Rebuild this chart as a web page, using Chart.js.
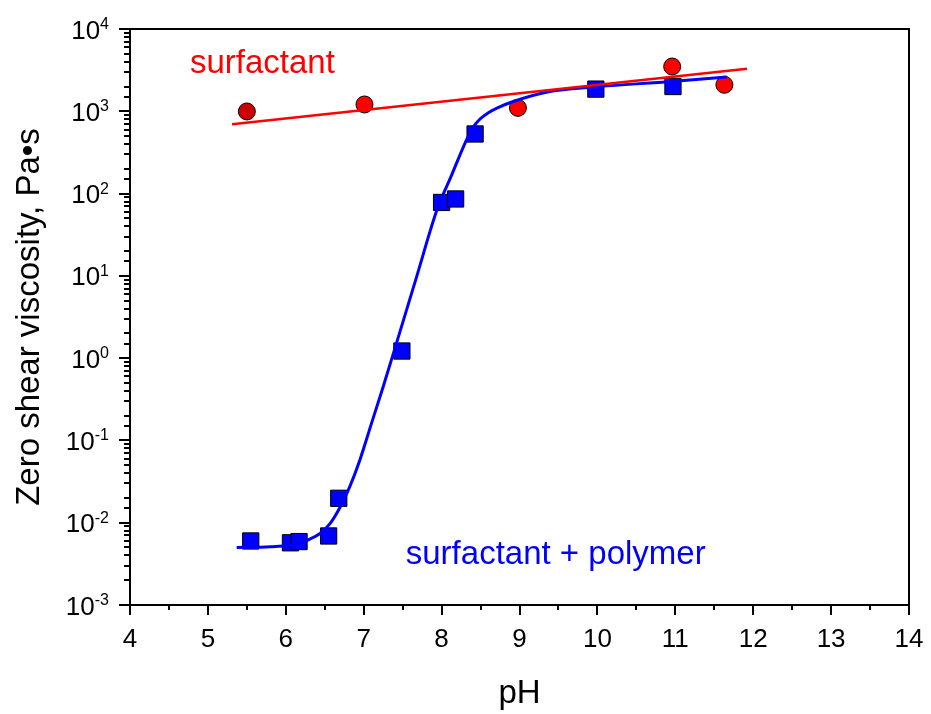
<!DOCTYPE html>
<html>
<head>
<meta charset="utf-8">
<script src="https://cdn.jsdelivr.net/npm/chart.js@4.4.1/dist/chart.umd.min.js"></script>
<style>
    body { margin: 0; background: #fff; }
    canvas { display: block; }
</style>
</head>
<body>
<canvas id="chartPH" width="931" height="714"></canvas>
<script>
// surfactant + polymer (squares)
var polyPH = [5.55, 6.06, 6.17, 6.55, 6.68, 7.49, 8.0, 8.18, 8.43, 9.98, 10.97];
var polyVisc = [0.0060, 0.0057, 0.0059, 0.0069, 0.0198, 1.22, 78, 86, 530, 1860, 2000];

// surfactant only (circles)
var surfPH = [5.50, 7.01, 8.98, 10.96, 11.63];
var surfVisc = [995, 1210, 1100, 3500, 2100];
var surfColors = ['#cc0000', '#ff0000', '#ff0000', '#ff0000', '#ff0000'];

// fitted curves
var fitPolyPH = [5.37, 5.8, 6.18, 6.27, 6.44, 6.57, 6.70, 6.82, 6.95, 7.10, 7.25, 7.42, 7.68, 7.94, 8.13, 8.32, 8.40, 8.49, 8.60, 8.71, 8.92, 9.39, 9.94, 10.95, 11.66];
var fitPolyVisc = [0.0050, 0.0051, 0.0056, 0.0061, 0.0074, 0.0098, 0.0156, 0.0273, 0.0576, 0.161, 0.449, 1.51, 9.8, 63, 169, 450, 630, 800, 960, 1094, 1316, 1741, 1968, 2305, 2606];
var fitSurfPH = [5.31, 11.92];
var fitSurfVisc = [698, 3289];

var yExponents = [-3, -2, -1, 0, 1, 2, 3, 4];

var labelTexts = ['surfactant', 'surfactant + polymer'];
var labelPH = [4.77, 7.54];
var labelVisc = [2940, 0.00319];
var labelColors = ['#ff0000', '#0000ff'];

var fonte = 'Arial, "Liberation Sans", sans-serif';

function pares(xs, ys) {
    var out = [];
    for (let i = 0; i < xs.length; i++) {
        out.push({ x: xs[i], y: ys[i] });
    }
    return out;
}

var eixosPlugin = {
    id: 'eixos',
    afterDraw: function (chart) {
        var ctx = chart.ctx;
        var area = chart.chartArea;
        var xs = chart.scales.x;
        var ys = chart.scales.y;

        ctx.save();
        ctx.strokeStyle = '#000';
        ctx.lineWidth = 2;
        ctx.strokeRect(area.left, area.top, area.right - area.left, area.bottom - area.top);

        // x ticks: integers long, halves short
        ctx.beginPath();
        xs.ticks.forEach(function (t) {
            var px = Math.round(xs.getPixelForValue(t.value));
            var len = Number.isInteger(t.value) ? 10 : 5;
            ctx.moveTo(px, area.bottom);
            ctx.lineTo(px, area.bottom + len);
        });
        // y ticks: decades long, the rest short
        ys.ticks.forEach(function (t) {
            var lg = Math.log10(t.value);
            var major = Math.abs(lg - Math.round(lg)) < 1e-6;
            var py = Math.round(ys.getPixelForValue(t.value));
            ctx.moveTo(area.left, py);
            ctx.lineTo(area.left - (major ? 11 : 6), py);
        });
        ctx.stroke();

        // y labels as 10 with raised exponent
        ctx.fillStyle = '#000';
        ctx.textBaseline = 'alphabetic';
        ctx.textAlign = 'left';
        yExponents.forEach(function (e) {
            var py = ys.getPixelForValue(Math.pow(10, e));
            var expo = String(e);
            ctx.font = '16px ' + fonte;
            var wExp = ctx.measureText(expo).width;
            ctx.font = '26px ' + fonte;
            var wBase = ctx.measureText('10').width;
            var right = 109;
            ctx.fillText('10', right - wExp - wBase, py + 9.5);
            ctx.font = '16px ' + fonte;
            ctx.fillText(expo, right - wExp, py);
        });

        // text labels inside the plot
        ctx.font = '33px ' + fonte;
        for (let i = 0; i < labelTexts.length; i++) {
            ctx.fillStyle = labelColors[i];
            ctx.fillText(labelTexts[i], xs.getPixelForValue(labelPH[i]), ys.getPixelForValue(labelVisc[i]));
        }
        ctx.restore();
    }
};

var ctxPH = document.getElementById('chartPH');

var grafico = new Chart(ctxPH, {
    type: 'scatter',
    data: {
        datasets: [
            {
                label: 'fit surfactant',
                data: pares(fitSurfPH, fitSurfVisc),
                showLine: true,
                borderColor: '#ff0000',
                borderWidth: 2.5,
                pointRadius: 0,
                order: 0
            },
            {
                label: 'fit surfactant + polymer',
                data: pares(fitPolyPH, fitPolyVisc),
                showLine: true,
                borderColor: '#0000ff',
                borderWidth: 3,
                pointRadius: 0,
                cubicInterpolationMode: 'monotone',
                order: 1
            },
            {
                label: 'surfactant + polymer',
                data: pares(polyPH, polyVisc),
                pointStyle: 'rect',
                pointRadius: 11.5,
                backgroundColor: '#0000ff',
                borderColor: '#000',
                borderWidth: 1,
                order: 2
            },
            {
                label: 'surfactant',
                data: pares(surfPH, surfVisc),
                pointStyle: 'circle',
                pointRadius: 8.5,
                backgroundColor: surfColors,
                borderColor: '#000',
                borderWidth: 1,
                order: 3
            }
        ]
    },
    options: {
        responsive: false,
        animation: false,
        layout: {
            padding: { top: 29, right: 22, left: 0, bottom: 0 }
        },
        plugins: {
            legend: { display: false },
            tooltip: { enabled: false }
        },
        scales: {
            x: {
                type: 'linear',
                min: 4,
                max: 14,
                grid: { display: false },
                border: { display: false },
                ticks: {
                    stepSize: 0.5,
                    autoSkip: false,
                    maxRotation: 0,
                    padding: 11,
                    color: '#000',
                    font: { family: fonte, size: 26 },
                    callback: function (v) {
                        return Number.isInteger(v) ? String(v) : '';
                    }
                },
                title: {
                    display: true,
                    text: 'pH',
                    color: '#000',
                    font: { family: fonte, size: 33 },
                    padding: { top: 0, bottom: 0 }
                },
                afterFit: function (scale) {
                    scale.height = 109;
                    // keep the frame edges where the reference has them
                    scale.paddingLeft = 0;
                    scale.paddingRight = 0;
                }
            },
            y: {
                type: 'logarithmic',
                min: 0.001,
                max: 10000,
                grid: { display: false },
                border: { display: false },
                ticks: { display: false },
                title: {
                    display: true,
                    text: 'Zero shear viscosity, Pa\u2022s',
                    color: '#000',
                    font: { family: fonte, size: 33 },
                    padding: { top: 10, bottom: 0 }
                },
                afterFit: function (scale) {
                    scale.width = 130;
                    scale.paddingTop = 0;
                    scale.paddingBottom = 0;
                }
            }
        }
    },
    plugins: [eixosPlugin]
});
</script>
</body>
</html>
